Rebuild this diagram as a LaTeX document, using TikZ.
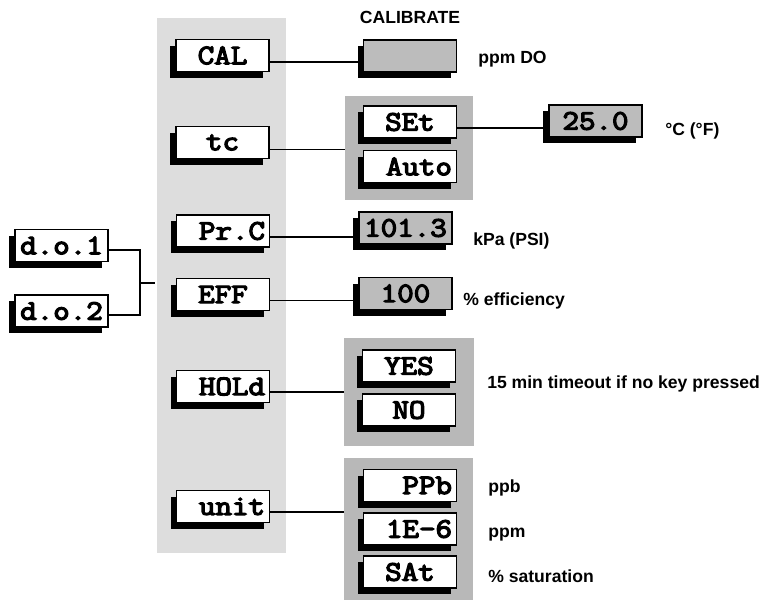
\documentclass[tikz,border=0pt]{standalone}
\usepackage{fontspec}
\setmainfont{Liberation Sans}
\newfontfamily\dispfam{Latin Modern Mono}[FakeBold=4.6, FakeStretch=1.14]
\usetikzlibrary{positioning,shadows,calc}
\definecolor{panelgray}{RGB}{221,221,221}
\definecolor{groupgray}{RGB}{184,184,184}
\definecolor{valgray}{RGB}{188,188,188}
\newcommand{\dispfont}{\dispfam\fontsize{20}{22}\selectfont}
\newcommand{\notefont}{\bfseries\fontsize{12.5}{14}\selectfont}

\begin{document}
\begin{tikzpicture}[x=0.025cm, y=-0.025cm,
  disp/.style={draw=black, line width=0.8pt, fill=white, minimum width=2.325cm, minimum height=0.8cm, inner sep=0pt, font=\dispfont, general shadow={fill=black, shadow xshift=-0.14cm, shadow yshift=-0.16cm}},
  dispr/.style={disp, text width=2.1cm, align=right},
  val/.style={disp, fill=valgray},
  grp/.style={fill=groupgray, draw=none, inner sep=0pt},
  note/.style={anchor=base west, font=\notefont, inner sep=0pt},
  link/.style={line width=1.1pt},
  fork/.style={line width=1.6pt}]
  \useasboundingbox (0,0) rectangle (770,600);

  % menu panel and option groups
  \node[grp, fill=panelgray, minimum width=3.225cm, minimum height=13.375cm] (panel) at (221.5,285.5) {};
  \node[grp, minimum width=3.2cm, minimum height=2.6cm] (tcgrp) at (409,148) {};
  \node[grp, minimum width=3.25cm, minimum height=2.7cm] (holdgrp) at (409,392) {};
  \node[grp, minimum width=3.225cm, minimum height=3.55cm] (unitgrp) at (408.5,529) {};

  % probe selection
  \node[disp] (do1) at (61.5,245.5) {d.o.1};
  \node[disp] (do2) at (61.5,311) {d.o.2};
  \coordinate (jn) at (140,283);
  \coordinate (stub) at (155,283);

  % menu items
  \node[disp] (cal) at (222.5,55.5) {CAL};
  \node[disp] (tc) at (222.5,142.5) {tc};
  \node[dispr] (prc) at (223,231) {Pr.C};
  \node[disp] (eff) at (223,294.5) {EFF};
  \node[dispr] (hold) at (223,386.5) {HOLd};
  \node[dispr] (unit) at (223,506.5) {unit};

  % choices
  \node[val] (calv) at (410,56) {};
  \node[disp] (set) at (410,122) {SEt};
  \node[dispr] (auto) at (410,166.5) {Auto};
  \node[val] (temp) at (595.5,121) {25.0};
  \node[val] (press) at (405.5,228) {101.3};
  \node[val] (effv) at (405.5,293.5) {100};
  \node[disp] (yes) at (409,366) {YES};
  \node[disp] (no) at (409,410) {NO};
  \node[dispr] (ppb) at (410,485.5) {PPb};
  \node[dispr] (ppm) at (410,529) {1E-6};
  \node[disp] (sat) at (410,572) {SAt};

  % notes
  \node[font=\notefont, inner sep=0pt] (calhead) at (410,17) {CALIBRATE};
  \node[note] at (478,63) {ppm DO};
  \node[note] at (665,135) {°C (°F)};
  \node[note] at (473,245) {kPa (PSI)};
  \node[note] at (463,305) {\% efficiency};
  \node[note] at (487,388) {15 min timeout if no key pressed};
  \node[note] at (488,492) {ppb};
  \node[note] at (488,537) {ppm};
  \node[note] at (488,582) {\% saturation};

  % connectors
  \draw[fork] ([yshift=-0.12cm]do1.east) -| (jn) |- ([yshift=-0.1cm]do2.east);
  \draw[fork] (jn) -- (stub);
  \draw[link] ([yshift=-0.16cm]cal.east) -- ([yshift=-0.16cm]cal.east -| calv.west);
  \draw[link] ([yshift=-0.175cm]tc.east) -- ([yshift=-0.175cm]tc.east -| tcgrp.west);
  \draw[link] ([yshift=-0.15cm]set.east) -- ([yshift=-0.15cm]set.east -| temp.west);
  \draw[link] ([yshift=-0.15cm]prc.east) -- ([yshift=-0.15cm]prc.east -| press.west);
  \draw[link] ([yshift=-0.15cm]eff.east) -- ([yshift=-0.15cm]eff.east -| effv.west);
  \draw[link] ([yshift=-0.14cm]hold.east) -- ([yshift=-0.14cm]hold.east -| holdgrp.west);
  \draw[link] ([yshift=-0.14cm]unit.east) -- ([yshift=-0.14cm]unit.east -| unitgrp.west);
\end{tikzpicture}
\end{document}
